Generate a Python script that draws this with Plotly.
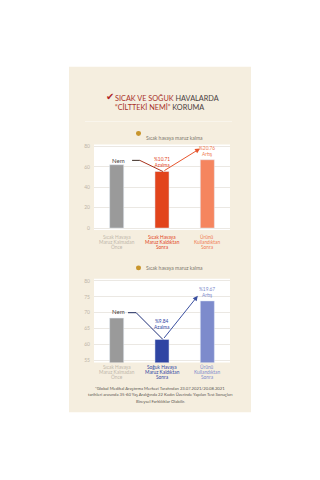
import plotly.graph_objects as go

# ---------------- data ----------------
cat_labels_1 = [["Sıcak Havaya", "Maruz Kalmadan", "Önce"],
                ["Sıcak Havaya", "Maruz Kaldıktan", "Sonra"],
                ["Ürünü", "Kullandıktan", "Sonra"]]
cat_labels_2 = [["Sıcak Havaya", "Maruz Kalmadan", "Önce"],
                ["Soğuk Havaya", "Maruz Kaldıktan", "Sonra"],
                ["Ürünü", "Kullandıktan", "Sonra"]]
values_1 = [62.0, 55.4, 66.9]
values_2 = [68.3, 61.6, 73.7]
change_1 = ["%10.71<br>Azalma", "%20.76<br>Artış"]
change_2 = ["%9.84<br>Azalma", "%19.67<br>Artış"]
ticks_1 = [0, 20, 40, 60, 80]
ticks_2 = [55, 60, 65, 70, 75, 80]
legend_text = "Sıcak havaya maruz kalma"
footnote = ["*Global Medikal Araştırma Merkezi Tarafından 23.07.2021/20.08.2021",
            "tarihleri arasında 35-60 Yaş Aralığında 22 Kadın Üzerinde Yapılan Test Sonuçları",
            "Bireysel Farklılıklar Olabilir."]

# ---------------- style ----------------
W, H = 320, 480
BEIGE = "#f5eedf"
FONT = "Lato"
colors_1 = ["#9a9a9a", "#e2441c", "#f5855f"]
colors_2 = ["#9a9a9a", "#2f45a3", "#7d8bcc"]
text_cols_1 = ["#bfb7aa", "#e2441c", "#f07a52"]
text_cols_2 = ["#bfb7aa", "#2f45a3", "#7d8bcc"]


def px(x):
    return x / W


def py(y):
    return 1 - y / H


fig = go.Figure()
xs = [0, 1, 2]

fig.add_trace(go.Bar(x=xs, y=values_1, marker_color=colors_1, width=0.31,
                     xaxis="x", yaxis="y", showlegend=False))
fig.add_trace(go.Bar(x=xs, y=values_2, marker_color=colors_2, width=0.31,
                     xaxis="x2", yaxis="y2", showlegend=False))

# connector lines (from "Nem" to the middle bar top)
fig.add_trace(go.Scatter(x=[0.34, 0.51], y=[values_1[0] + 4.3, values_1[0] + 4.3],
                         mode="lines", line=dict(color="#3a2a22", width=1),
                         xaxis="x", yaxis="y", showlegend=False, hoverinfo="skip"))
fig.add_trace(go.Scatter(x=[0.51, 1.02], y=[values_1[0] + 4.3, values_1[1]],
                         mode="lines", line=dict(color="#a8321c", width=1),
                         xaxis="x", yaxis="y", showlegend=False, hoverinfo="skip"))
fig.add_trace(go.Scatter(x=[0.25, 0.43], y=[values_2[0] + 1.7, values_2[0] + 1.7],
                         mode="lines", line=dict(color="#1f2a5e", width=1),
                         xaxis="x2", yaxis="y2", showlegend=False, hoverinfo="skip"))
fig.add_trace(go.Scatter(x=[0.43, 1.02], y=[values_2[0] + 1.7, values_2[1]],
                         mode="lines", line=dict(color="#1f2f78", width=1),
                         xaxis="x2", yaxis="y2", showlegend=False, hoverinfo="skip"))

ann = []
shapes = []

# beige panel, then white plot areas
shapes.append(dict(type="rect", xref="paper", yref="paper",
                   x0=px(69), x1=px(251), y0=py(413), y1=py(66),
                   fillcolor=BEIGE, line=dict(width=0), layer="below"))
for (t, b) in ((144, 230), (279, 363)):
    shapes.append(dict(type="rect", xref="paper", yref="paper",
                       x0=px(94), x1=px(230), y0=py(b), y1=py(t),
                       fillcolor="white", line=dict(width=0), layer="below"))
shapes.append(dict(type="line", xref="paper", yref="paper",
                   x0=px(85), x1=px(232), y0=py(121), y1=py(121),
                   line=dict(color="#f9f5ec", width=1), layer="below"))

# title
ann.append(dict(xref="paper", yref="paper", x=px(104), y=py(88), text="✔",
                showarrow=False, font=dict(size=10, color="#b0262a", family="DejaVu Sans")))
ann.append(dict(xref="paper", yref="paper", x=px(113), y=py(91), xanchor="left",
                align="left", showarrow=False,
                text=("<span style='color:#a8302a'>SICAK VE SOĞUK</span> HAVALARDA<br>"
                      "<span style='color:#a8302a'>“CİLTTEKİ NEMİ”</span> KORUMA"),
                font=dict(size=7.3, color="#4a4040", family=FONT)))

# legends
for ly in (133, 268):
    shapes.append(dict(type="circle", xref="paper", yref="paper",
                       x0=px(136), x1=px(141), y0=py(ly + 2.5), y1=py(ly - 2.5),
                       fillcolor="#c8952c", line=dict(width=0)))
    ann.append(dict(xref="paper", yref="paper", x=px(144), y=py(ly), xanchor="left",
                    showarrow=False, text=legend_text,
                    font=dict(size=5, color="#7a736a", family=FONT)))

# category labels (one annotation per line for tight spacing)
for i in xs:
    for k in range(3):
        ann.append(dict(xref="x", yref="paper", x=i, y=py(236.5 + 5.2 * k),
                        showarrow=False, text=cat_labels_1[i][k],
                        font=dict(size=4.8, color=text_cols_1[i], family=FONT)))
        ann.append(dict(xref="x2", yref="paper", x=i, y=py(373 + 4.8 * k),
                        showarrow=False, text=cat_labels_2[i][k],
                        font=dict(size=4.8, color=text_cols_2[i], family=FONT)))

# chart 1 annotations
ann.append(dict(xref="x", yref="y", x=0.05, y=values_1[0] + 4.5, text="Nem",
                showarrow=False, font=dict(size=6, color="#4a4040", family=FONT)))
ann.append(dict(xref="x", yref="y", x=1.0, y=values_1[0] + 2.5, text=change_1[0],
                showarrow=False, font=dict(size=4.8, color="#e2441c", family=FONT)))
ann.append(dict(xref="x", yref="y", x=2.0, y=values_1[2] + 8.5, text=change_1[1],
                showarrow=False, font=dict(size=4.8, color="#f07a52", family=FONT)))
ann.append(dict(xref="x", yref="y", axref="x", ayref="y", x=1.84, y=values_1[2] + 11,
                ax=1.02, ay=values_1[1], text="", showarrow=True, arrowhead=2,
                arrowsize=1, arrowwidth=1, arrowcolor="#e8562e"))

# chart 2 annotations
ann.append(dict(xref="x2", yref="y2", x=0.03, y=values_2[0] + 2.0, text="Nem",
                showarrow=False, font=dict(size=6, color="#4a4040", family=FONT)))
ann.append(dict(xref="x2", yref="y2", x=1.0, y=values_2[1] + 4.8, text=change_2[0],
                showarrow=False, font=dict(size=4.8, color="#2f45a3", family=FONT)))
ann.append(dict(xref="x2", yref="y2", x=2.0, y=values_2[2] + 2.9, text=change_2[1],
                showarrow=False, font=dict(size=4.8, color="#7d8bcc", family=FONT)))
ann.append(dict(xref="x2", yref="y2", axref="x2", ayref="y2", x=1.79, y=values_2[2] + 1.6,
                ax=1.02, ay=values_2[1], text="", showarrow=True, arrowhead=2,
                arrowsize=1, arrowwidth=1, arrowcolor="#3a4fa0"))

# footnote
for k, line in enumerate(footnote):
    ann.append(dict(xref="paper", yref="paper", x=0.5, y=py(393.5 + 6.5 * k), showarrow=False,
                    text=line, font=dict(size=4.2, color="#5a5550", family=FONT)))

xcommon = dict(range=[-0.5, 2.5], showticklabels=False, showgrid=False,
               zeroline=False, fixedrange=True)
ycommon = dict(showgrid=True, gridcolor="#ebe8e3", gridwidth=1, zeroline=False,
               ticks="", tickfont=dict(size=5, color="#bdb5a8", family=FONT),
               ticklabelstandoff=3)

fig.update_layout(
    width=W, height=H, margin=dict(l=0, r=0, t=0, b=0),
    paper_bgcolor="white", plot_bgcolor="white",
    bargap=0.6,
    xaxis=dict(domain=[px(94), px(230)], anchor="y", **xcommon),
    yaxis=dict(domain=[py(230), py(144)], anchor="x", range=[-1.95, 81.95],
               tickvals=ticks_1, **ycommon),
    xaxis2=dict(domain=[px(94), px(230)], anchor="y2", **xcommon),
    yaxis2=dict(domain=[py(363), py(279)], anchor="x2", range=[54.375, 80.625],
                tickvals=ticks_2, **ycommon),
    shapes=shapes, annotations=ann,
)

fig.write_html("out.html")
